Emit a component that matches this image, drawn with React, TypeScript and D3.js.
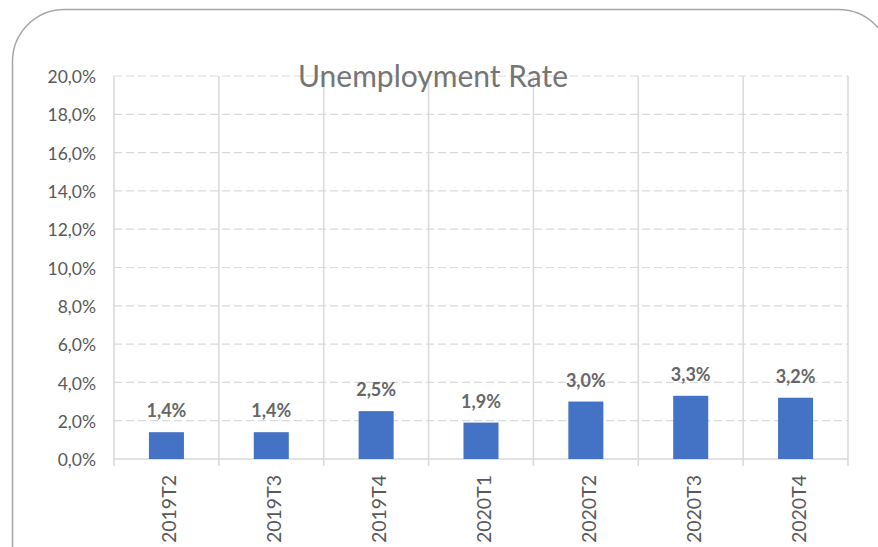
import React from "react";
import * as d3 from "d3";

const categories = ["2019T2", "2019T3", "2019T4", "2020T1", "2020T2", "2020T3", "2020T4"];
const values = [1.4, 1.4, 2.5, 1.9, 3.0, 3.3, 3.2];
const yTicks = [0, 2, 4, 6, 8, 10, 12, 14, 16, 18, 20];
const title = "Unemployment Rate";

const W = 878;
const H = 547;
const left = 114;
const right = 848;
const top = 76;
const bottom = 459;

const fmt = (v: number) => v.toFixed(1).replace(".", ",") + "%";

export default function App() {
  const x = d3.scaleBand<string>().domain(categories).range([left, right]).paddingInner(0).paddingOuter(0);
  const y = d3.scaleLinear().domain([0, 20]).range([bottom, top]);
  const bw = x.bandwidth() * 0.334;
  const boundaries = categories.map((c) => x(c) as number).concat([right]);
  const font = "Lato, 'Open Sans', sans-serif";

  return (
    <svg width={W} height={H} style={{ position: "absolute", left: 0, top: 0, background: "#fff" }}>
      <rect x={12.5} y={9.5} width={878} height={600} rx={52} ry={52} fill="#fff" stroke="#a6a6a6" strokeWidth={1.5} />
      {yTicks.filter((t) => t > 0).map((t) => (
        <line key={"h" + t} x1={left} x2={right} y1={y(t)} y2={y(t)} stroke="#d9d9d9" strokeWidth={1.2} strokeDasharray="8,4" />
      ))}
      {boundaries.map((b, i) => (
        <line key={"v" + i} x1={b} x2={b} y1={top} y2={bottom + 7} stroke="#d9d9d9" strokeWidth={1.5} />
      ))}
      <line x1={left} x2={right} y1={bottom} y2={bottom} stroke="#d9d9d9" strokeWidth={1.5} />
      {categories.map((c, i) => {
        const cx = (x(c) as number) + x.bandwidth() / 2;
        return (
          <g key={c}>
            <rect x={cx - bw / 2} y={y(values[i])} width={bw} height={bottom - y(values[i])} fill="#4472C4" />
            <text x={cx} y={y(values[i]) - 15} textAnchor="middle" fontFamily={font} fontWeight={700} fontSize={18} fill="#666666">
              {fmt(values[i])}
            </text>
            <text
              transform={`translate(${cx + 10},475) rotate(-90)`}
              textAnchor="end"
              fontFamily={font}
              fontSize={19.5}
              fill="#595959"
            >
              {c}
            </text>
          </g>
        );
      })}
      {yTicks.map((t) => (
        <text key={"yl" + t} x={96} y={y(t) + 1} dy="0.35em" textAnchor="end" fontFamily={font} fontSize={17.5} fill="#595959">
          {fmt(t)}
        </text>
      ))}
      <text x={433} y={87} textAnchor="middle" fontFamily={font} fontSize={30} fill="#757575">
        {title}
      </text>
    </svg>
  );
}
